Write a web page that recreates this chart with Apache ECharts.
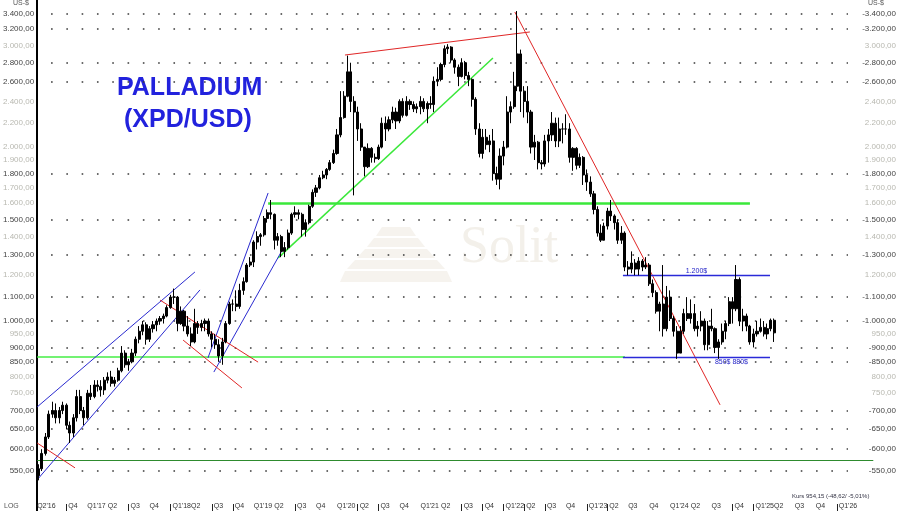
<!DOCTYPE html>
<html><head><meta charset="utf-8">
<script src="https://cdn.jsdelivr.net/npm/echarts@6/dist/echarts.min.js"></script>
<style>html,body{margin:0;padding:0;background:#fff}#c{width:900px;height:511px}</style>
</head><body><div id="c"></div>
<script>
// Semi-monthly bars [open, high, low, close] in US-$
const p2016 = [[545,560,520,540],[540,565,530,555],[555,600,550,590],[590,640,585,630],[630,700,625,690],[690,725,680,700],[700,720,665,680],[680,710,665,700],[700,725,690,715],[715,720,650,660],[660,670,615,640],[640,690,630,680],[680,760,670,740],[740,760,690,700],[700,710,660,680]];
const p2017 = [[680,760,675,750],[750,775,730,740],[740,790,735,775],[775,790,755,770],[770,790,740,760],[760,800,745,790],[790,815,780,800],[800,820,770,780],[780,800,770,790],[790,830,785,820],[820,905,815,880],[880,890,830,840],[840,860,820,850],[850,895,845,880],[880,940,870,930],[930,980,915,960],[960,1000,945,985],[985,995,910,930],[930,980,920,970],[970,1000,955,985],[985,1010,960,1000],[1000,1020,985,1010],[1010,1030,990,1020],[1020,1065,1015,1055]];
const p2018 = [[1055,1110,1050,1100],[1100,1138,1070,1100],[1100,1105,960,990],[990,1060,985,1040],[1040,1045,960,980],[980,1020,940,950],[950,975,905,920],[920,1050,915,990],[990,1000,950,975],[975,1005,960,990],[990,1010,960,1000],[1000,1010,940,950],[950,960,900,930],[930,950,895,910],[910,930,850,870],[870,935,840,920],[920,1000,915,990],[990,1080,985,1070],[1070,1090,1040,1070],[1070,1130,1040,1060],[1060,1160,1050,1130],[1130,1190,1110,1170],[1170,1260,1165,1250],[1250,1290,1240,1265]];
const p2019 = [[1265,1380,1240,1370],[1370,1430,1330,1400],[1400,1420,1350,1410],[1410,1520,1400,1505],[1505,1560,1480,1540],[1540,1620,1500,1530],[1530,1535,1330,1380],[1380,1420,1350,1400],[1400,1410,1290,1320],[1320,1370,1290,1340],[1340,1440,1330,1420],[1420,1540,1410,1530],[1530,1580,1510,1540],[1540,1560,1500,1530],[1530,1540,1400,1440],[1440,1500,1400,1480],[1480,1590,1470,1580],[1580,1690,1570,1670],[1670,1720,1640,1700],[1700,1790,1690,1770],[1770,1820,1760,1790],[1790,1840,1760,1830],[1830,1900,1820,1880],[1880,1980,1870,1950]];
const p2020 = [[1950,2150,1940,2100],[2100,2500,2080,2250],[2250,2500,2240,2450],[2450,2880,2440,2700],[2700,2800,2300,2400],[2400,2450,1650,2300],[2300,2350,2050,2150],[2150,2200,1970,2000],[2000,2000,1780,1850],[1850,2030,1840,1990],[1990,2000,1880,1920],[1920,1950,1880,1910],[1910,2020,1900,2000],[2000,2250,1990,2200],[2200,2260,2050,2150],[2150,2260,2130,2230],[2230,2350,2200,2300],[2300,2340,2150,2220],[2220,2420,2200,2400],[2400,2430,2250,2270],[2270,2450,2260,2400],[2400,2420,2320,2370],[2370,2400,2300,2330],[2330,2380,2290,2350]];
const p2021 = [[2350,2450,2280,2400],[2400,2430,2300,2330],[2330,2400,2200,2380],[2380,2450,2330,2370],[2370,2650,2300,2600],[2600,2750,2550,2620],[2620,2800,2600,2780],[2780,3000,2750,2960],[2960,3015,2900,2980],[2980,2990,2800,2830],[2830,2850,2680,2750],[2750,2780,2550,2650],[2650,2850,2640,2800],[2800,2820,2620,2660],[2660,2700,2550,2620],[2620,2630,2350,2420],[2420,2440,2100,2150],[2150,2200,1920,1950],[1950,2150,1910,2080],[2080,2150,1980,2020],[2020,2100,1960,2050],[2050,2150,1750,1800],[1800,1850,1720,1760],[1760,1990,1690,1930]];
const p2022 = [[1930,2050,1860,2000],[2000,2450,1990,2300],[2300,2400,2200,2350],[2350,2700,2330,2550],[2550,3440,2500,2900],[2900,2950,2300,2500],[2500,2550,2250,2400],[2400,2550,2200,2300],[2300,2320,1950,2000],[2000,2100,1900,2040],[2040,2050,1830,1880],[1880,1900,1830,1870],[1870,2100,1850,2050],[2050,2150,1880,2100],[2100,2300,2050,2200],[2200,2250,2000,2050],[2050,2250,2000,2150],[2150,2200,2030,2150],[2150,2280,2100,2150],[2150,2200,1880,1920],[1920,2000,1820,1990],[1990,2000,1830,1860],[1860,1950,1840,1920],[1920,1930,1720,1790]];
const p2023 = [[1790,1830,1680,1740],[1740,1780,1640,1660],[1660,1680,1530,1560],[1560,1580,1400,1420],[1420,1470,1370,1380],[1380,1480,1380,1460],[1460,1570,1440,1550],[1550,1620,1490,1520],[1520,1530,1440,1480],[1480,1500,1360,1380],[1380,1460,1360,1420],[1420,1430,1220,1240],[1240,1270,1200,1230],[1230,1320,1210,1260],[1260,1280,1200,1230],[1230,1290,1200,1270],[1270,1280,1220,1240],[1240,1290,1230,1250],[1250,1260,1150,1160],[1160,1180,1100,1120],[1120,1130,1030,1040],[1040,1080,960,1070],[1070,1250,940,970],[970,1150,960,1100]];
const p2024 = [[1100,1130,1000,1010],[1010,1020,940,960],[960,980,860,880],[880,980,880,960],[960,1050,950,1030],[1030,1100,1000,1010],[1010,1090,990,1030],[1030,1070,960,970],[970,1000,940,980],[980,1040,960,1000],[1000,1010,890,910],[910,1000,890,980],[980,1050,960,970],[970,975,880,900],[900,930,860,920],[920,990,910,960],[960,1000,930,990],[990,1100,980,1080],[1080,1100,990,1050],[1050,1250,1040,1180],[1180,1190,980,1000],[1000,1050,960,1020],[1020,1030,960,980],[980,985,910,920]];
const p2025 = [[920,970,900,950],[950,1000,940,960],[960,1010,955,975],[975,1000,940,950],[950,990,930,970],[970,1010,960,1003],[1003,1010,920,954]];
const firstBarDate = '2016-05-27';

const yTicks = [3400,3200,3000,2800,2600,2400,2200,2000,1900,1800,1700,1600,1500,1400,1300,1200,1100,1000,950,900,850,800,750,700,650,600,550];
const yTicksMajor = [3400,3200,2800,2600,1800,1500,1300,1100,1000,900,850,700,650,600,550];
const xTickDates = ['2016-05-26','2016-10-01','2017-01-01','2017-04-01','2017-07-01','2017-10-01','2018-01-01','2018-04-01','2018-07-01','2018-10-01','2019-01-01','2019-04-01','2019-07-01','2019-10-01','2020-01-01','2020-04-01','2020-07-01','2020-10-01','2021-01-01','2021-04-01','2021-07-01','2021-10-01','2022-01-01','2022-04-01','2022-07-01','2022-10-01','2023-01-01','2023-04-01','2023-07-01','2023-10-01','2024-01-01','2024-04-01','2024-07-01','2024-10-01','2025-01-01','2025-04-01','2025-07-01','2025-10-01','2026-01-01','2026-04-01'];
const xTickLabels = ["Q2'16","Q4","Q1'17","Q2","Q3","Q4","Q1'18","Q2","Q3","Q4","Q1'19","Q2","Q3","Q4","Q1'20","Q2","Q3","Q4","Q1'21","Q2","Q3","Q4","Q1'22","Q2","Q3","Q4","Q1'23","Q2","Q3","Q4","Q1'24","Q2","Q3","Q4","Q1'25","Q2","Q3","Q4","Q1'26","Q2"];
const xPipeDates = ['2016-10-01','2017-07-01','2018-01-01','2018-07-01','2018-10-01','2019-07-01','2020-04-01','2020-07-01','2021-07-01','2021-10-01','2022-01-01','2022-04-01','2022-07-01','2023-01-01','2023-04-01','2024-10-01','2025-01-01','2026-01-01'];

// annotation lines [[date, value],[date, value]]
const blueLines = [
  [['2016-05-26',710],['2018-04-18',1216]],
  [['2016-05-26',531],['2018-05-10',1132]],
  [['2018-06-14',863],['2019-03-05',1666]],
  [['2018-07-10',816],['2019-05-06',1327]]
];
const blueLevels = [
  [['2023-06-08',1200],['2025-03-14',1200],'1.200$'],
  [['2023-06-08',866],['2025-03-14',866],'850$ 880$']
];
const redLines = [
  [['2016-05-26',615],['2016-11-08',557]],
  [['2017-11-16',1087],['2019-01-20',849]],
  [['2018-02-25',927],['2018-11-10',766]],
  [['2020-02-05',2887],['2022-04-26',3165]],
  [['2022-02-19',3427],['2024-08-07',716]]
];
const greenTrend = [['2019-04-18',1286],['2021-11-15',2853]];
const greenLevel1600 = [['2019-03-05',1600],['2024-12-16',1600]];
const greenLevelLow = [['2016-05-26',866],['2023-06-17',866]];
const darkGreenLevel = [['2016-05-26',573],['2026-06-10',573]];
const gridDotRange = ['2016-07-26','2026-02-19'];
const xRange = ['2016-05-26','2026-09-22'];
const yRange = [469, 3595];

function ts(s){const a=s.split('-').map(Number);return new Date(a[0],a[1]-1,a[2]).getTime();}
function de(v){const s=Math.round(v).toString().replace(/\B(?=(\d{3})+(?!\d))/g,'.');return s+',00';}

const allBars = [].concat(p2016,p2017,p2018,p2019,p2020,p2021,p2022,p2023,p2024,p2025);
const barDates = [ts(firstBarDate)];
for (let k=1;k<allBars.length;k++){
  const m = 5 + Math.floor((k-1)/2);
  barDates.push(new Date(2016+Math.floor(m/12), m%12, (k-1)%2 ? 16 : 1).getTime());
}
const candle = allBars.map((b,i)=>[barDates[i], b[0], b[3], b[2], b[1]]);

const tickMap = {};
xTickDates.forEach((d,i)=>{tickMap[ts(d)] = xTickLabels[i];});
const pipeSet = xPipeDates.map(ts);
function tickLabel(v){
  let best='', bk=0, bd=1e15;
  for (const k in tickMap){ const d=Math.abs(+k - v); if(d<bd){bd=d;best=tickMap[k];bk=+k;} }
  if (bd >= 864e5) return '';
  return (pipeSet.some(p=>Math.abs(p-bk)<864e5) ? ' ' : '') + best;
}

const ml = [];
function seg(a,b,style,label){
  ml.push([{coord:[ts(a[0]),a[1]], lineStyle:style, label:label||{show:false}},{coord:[ts(b[0]),b[1]]}]);
}
yTicksMajor.forEach(v=>seg([gridDotRange[0],v],[gridDotRange[1],v],{color:'#3a3a3a',width:1.6,type:[1.6,13.7]}));
seg(darkGreenLevel[0],darkGreenLevel[1],{color:'#2e8b2e',width:1.2,type:'solid'});
seg(greenLevelLow[0],greenLevelLow[1],{color:'#44ee44',width:1.5,type:'solid'});
seg(greenLevel1600[0],greenLevel1600[1],{color:'#3ae83a',width:2.5,type:'solid'});
seg(greenTrend[0],greenTrend[1],{color:'#3ae83a',width:1.5,type:'solid'});
blueLines.forEach(l=>seg(l[0],l[1],{color:'#2a2ad0',width:1,type:'solid'}));
redLines.forEach(l=>seg(l[0],l[1],{color:'#e02626',width:1,type:'solid'}));
blueLevels.forEach((l,i)=>seg(l[0],l[1],{color:'#2a2ad8',width:1.4,type:'solid'},
  {show:true, formatter:l[2], position: i===0?'insideMiddleTop':'insideEndBottom', distance:i===0?[0,1]:[22,1], color:'#2424c8', fontSize:7, fontFamily:'Liberation Sans'}));

const labelRich = {
  d:{color:'#444',fontSize:8,fontFamily:'Liberation Sans'},
  l:{color:'#b8b8b0',fontSize:8,fontFamily:'Liberation Sans'}
};
const isMajor = v => yTicksMajor.some(t=>Math.abs(t-v)<0.5);

const chart = echarts.init(document.getElementById('c'), null, {renderer:'canvas'});
chart.setOption({
  animation:false,
  backgroundColor:'#fff',
  grid:{left:37,right:3,top:0,bottom:0,containLabel:false},
  xAxis:{type:'value',min:ts(xRange[0]),max:ts(xRange[1]),scale:true,
    axisLine:{show:false},splitLine:{show:false},
    axisTick:{show:true,inside:true,length:7,customValues:pipeSet,lineStyle:{color:'#222',width:1}},
    axisLabel:{inside:true,margin:1,align:'left',color:'#333',fontSize:7,fontFamily:'Liberation Sans',hideOverlap:false,
      showMinLabel:true,showMaxLabel:false,
      customValues:xTickDates.map(ts),
      formatter:v=>tickLabel(v)}},
  yAxis:[
    {type:'log',logBase:10,min:yRange[0],max:yRange[1],position:'left',
      axisLine:{show:true,lineStyle:{color:'#000',width:2}},axisTick:{show:false},splitLine:{show:false},
      axisLabel:{margin:3,customValues:yTicks,rich:labelRich,
        formatter:v=>(isMajor(v)?'{d|':'{l|')+de(v)+'}'}},
    {type:'log',logBase:10,min:yRange[0],max:yRange[1],position:'right',
      axisLine:{show:false},axisTick:{show:false},splitLine:{show:false},
      axisLabel:{inside:true,margin:1,customValues:yTicks,rich:labelRich,
        formatter:v=>(isMajor(v)?'{d|-':'{l|')+de(v)+'}'}}
  ],
  graphic:{elements:[
    {type:'polygon',z:-10,shape:{points:[[382,227],[410,227],[416,236],[376,236]]},style:{fill:'#f6f3ee'}},
    {type:'polygon',z:-10,shape:{points:[[374,238],[418,238],[425,247],[367,247]]},style:{fill:'#f6f3ee'}},
    {type:'polygon',z:-10,shape:{points:[[365,249],[427,249],[435,258],[357,258]]},style:{fill:'#f6f3ee'}},
    {type:'polygon',z:-10,shape:{points:[[355,260],[437,260],[445,269],[347,269]]},style:{fill:'#f6f3ee'}},
    {type:'polygon',z:-10,shape:{points:[[345,271],[447,271],[452,282],[340,282]]},style:{fill:'#f6f3ee'}},
    {type:'text',z:-10,left:460,top:222,style:{text:'Solit',fill:'#f3f0ea',font:'52px "Liberation Serif"'}},
    {type:'text',left:117,top:76,style:{text:'PALLADIUM',fill:'#2222dd',font:'bold 25px "Liberation Sans"'}},
    {type:'text',left:124,top:108,style:{text:'(XPD/USD)',fill:'#2222dd',font:'bold 25px "Liberation Sans"'}},
    {type:'text',left:13,top:0,style:{text:'US-$',fill:'#555',font:'7px "Liberation Sans"'}},
    {type:'text',left:868,top:0,style:{text:'US-$',fill:'#555',font:'7px "Liberation Sans"'}},
    {type:'text',left:4,top:503,style:{text:'LOG',fill:'#555',font:'7px "Liberation Sans"'}},
    {type:'text',left:792,top:493,style:{text:'Kurs 954,15 (-48,62/ -5,01%)',fill:'#334',font:'6px "Liberation Sans"'}}
  ]},
  series:[{
    type:'candlestick',
    data:candle,
    encode:{x:0,y:[1,2,3,4]},
    barWidth:2.6,
    z:3,
    itemStyle:{color:'#000',color0:'#000',borderColor:'#000',borderColor0:'#000',borderWidth:1},
    markLine:{silent:true,symbol:'none',animation:false,z:2,label:{show:false},emphasis:{disabled:true},data:ml}
  }]
});
</script>
</body></html>
